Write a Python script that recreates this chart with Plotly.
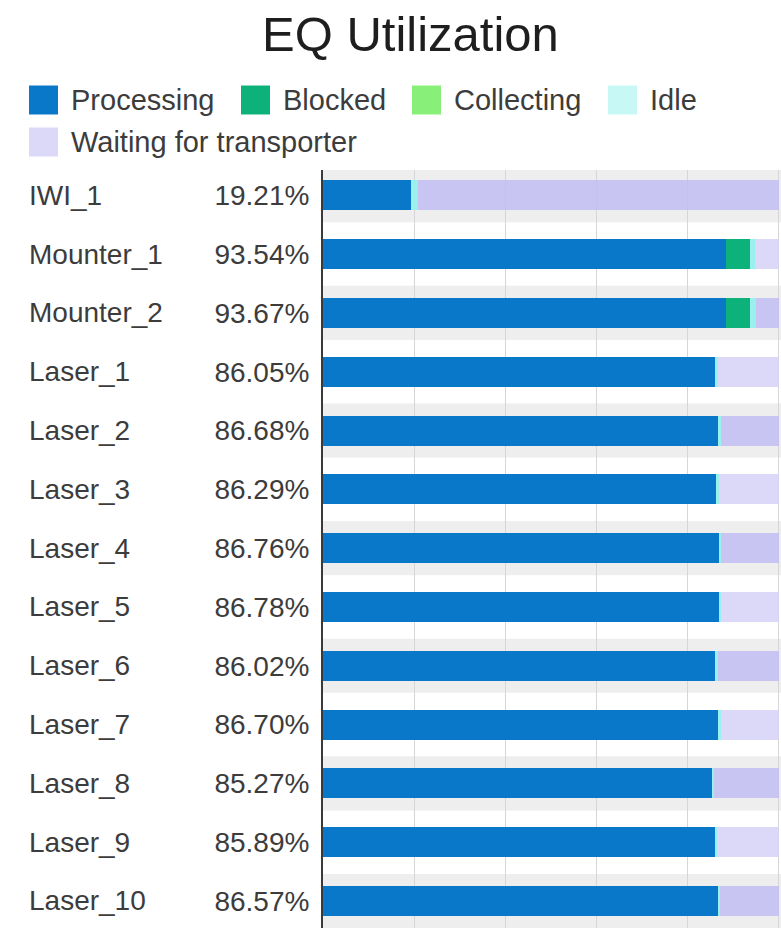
import plotly.graph_objects as go

# ---- data ----
categories = ["IWI_1", "Mounter_1", "Mounter_2", "Laser_1", "Laser_2", "Laser_3",
              "Laser_4", "Laser_5", "Laser_6", "Laser_7", "Laser_8", "Laser_9", "Laser_10"]
utilization = [19.21, 93.54, 93.67, 86.05, 86.68, 86.29, 86.76, 86.78, 86.02, 86.70, 85.27, 85.89, 86.57]
processing = [19.21, 88.38, 88.40, 86.05, 86.68, 86.29, 86.76, 86.78, 86.02, 86.70, 85.27, 85.89, 86.57]
blocked = [0, 5.16, 5.27, 0, 0, 0, 0, 0, 0, 0, 0, 0, 0]
collecting = [0, 0, 0, 0, 0, 0, 0, 0, 0, 0, 0, 0, 0]
idle = [1.70, 1.20, 1.20, 0.50, 0.50, 0.50, 0.50, 0.50, 0.50, 0.50, 0.50, 0.50, 0.50]
waiting = [79.09, 5.26, 5.13, 13.45, 12.82, 13.21, 12.74, 12.72, 13.48, 12.80, 14.23, 13.61, 12.93]
series_names = ["Processing", "Blocked", "Collecting", "Idle", "Waiting for transporter"]
util_labels = [f"{u:.2f}%" for u in utilization]

# ---- styles ----
FONT = "Arial, Liberation Sans, sans-serif"
bar_colors = ["#0a78c8", "#0cb27a", "#88f078", "#99f0ec"]
legend_colors = ["#0a78c8", "#0cb27a", "#88f078", "#c8f8f5", "#dcd8f8"]
wait_light = "rgba(214,209,247,0.85)"
wait_dark = "rgba(193,189,243,0.85)"
wait_colors = [wait_dark if i % 2 == 0 else wait_light for i in range(len(categories))]

W, H = 781, 928
ML, MR, MT, MB = 323, 0, 170, 0
PW, PH = W - ML - MR, H - MT - MB


def px(X):
    return (X - ML) / PW


def py(Y):
    return (H - MB - Y) / PH


fig = go.Figure()
for name, vals, col in zip(series_names[:4], [processing, blocked, collecting, idle], bar_colors):
    fig.add_trace(go.Bar(y=categories, x=vals, name=name, orientation="h",
                         marker=dict(color=col, line=dict(width=0)), width=0.51,
                         showlegend=False))
fig.add_trace(go.Bar(y=categories, x=waiting, name=series_names[4], orientation="h",
                     marker=dict(color=wait_colors, line=dict(width=0)), width=0.51,
                     showlegend=False))

shapes = []
# alternating row stripes
for i in range(0, len(categories), 2):
    shapes.append(dict(type="rect", xref="paper", yref="y", x0=0, x1=1,
                       y0=i - 0.46, y1=i + 0.46, fillcolor="#eeeeee",
                       line=dict(width=0), layer="below"))

annotations = []
# names column
for c in categories:
    annotations.append(dict(x=px(27), xref="paper", y=c, yref="y", text=c,
                            showarrow=False, xanchor="left", yanchor="middle",
                            font=dict(family=FONT, size=28, color="#3c3c3c")))

# manual legend
legend_pos = [(29, 100), (241, 100), (412, 100), (608, 100), (29, 142)]
SQ = 29
for (lx, ly), name, col in zip(legend_pos, series_names, legend_colors):
    shapes.append(dict(type="rect", xref="paper", yref="paper",
                       x0=px(lx), x1=px(lx + SQ), y0=py(ly + SQ / 2), y1=py(ly - SQ / 2),
                       fillcolor=col, line=dict(width=0), layer="above"))
    annotations.append(dict(x=px(lx + 40), xref="paper", y=py(ly), yref="paper",
                            text=name, showarrow=False, xanchor="left", yanchor="middle",
                            font=dict(family=FONT, size=29, color="#3c3c3c")))

# title
annotations.append(dict(x=px(410), xref="paper", y=py(34), yref="paper",
                        text="EQ Utilization", showarrow=False, xanchor="center",
                        yanchor="middle", font=dict(family=FONT, size=49, color="#1e1e1e")))

fig.update_layout(
    width=W, height=H,
    margin=dict(l=ML, r=MR, t=MT, b=MB, pad=0),
    barmode="stack",
    paper_bgcolor="white", plot_bgcolor="white",
    shapes=shapes, annotations=annotations,
    xaxis=dict(range=[0, 100.44], dtick=20, showgrid=True, gridcolor="#d6d6d6",
               gridwidth=1, showticklabels=False, zeroline=False, showline=False,
               fixedrange=True),
    yaxis=dict(type="category", categoryorder="array", categoryarray=categories,
               range=[12.46, -0.43], tickmode="array", tickvals=categories,
               ticktext=util_labels, ticklabelstandoff=6, showgrid=False,
               showline=True, linecolor="#3a3a3a", linewidth=2,
               tickfont=dict(family=FONT, size=28, color="#3c3c3c"), fixedrange=True),
    font=dict(family=FONT),
)

fig.write_html("out.html",
               config={"displayModeBar": False},
               post_script="document.body.style.margin='0';"
                           "document.documentElement.style.overflow='hidden';"
                           "document.body.style.overflow='hidden';")
